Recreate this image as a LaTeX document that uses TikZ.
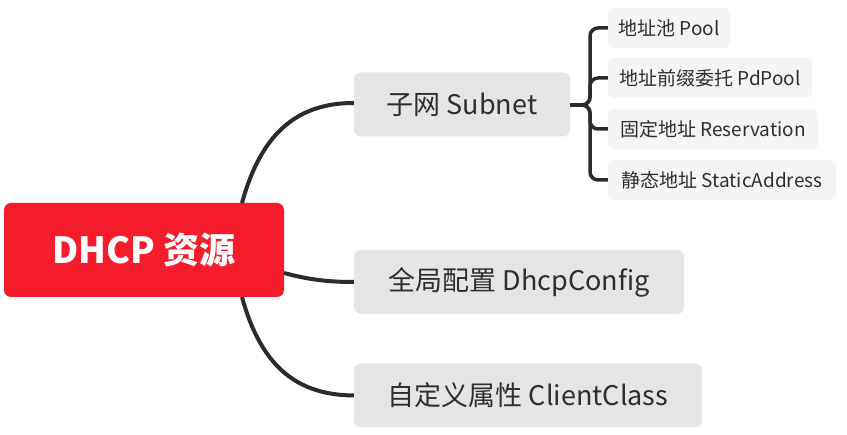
\documentclass[tikz,border=0pt]{standalone}
\usepackage{fontspec}
\setmainfont{Noto Sans CJK SC}
\definecolor{rootred}{HTML}{F51D2C}
\definecolor{lvlgray}{HTML}{E5E5E5}
\definecolor{leafgray}{HTML}{F5F5F5}
\definecolor{ink}{HTML}{2E2E2E}
\definecolor{linec}{HTML}{2B2B2B}
\begin{document}
\begin{tikzpicture}[x=1pt,y=-1pt,
  rootbox/.style={fill=rootred,rounded corners=7pt,text=white,inner sep=0pt,
    minimum width=280pt,minimum height=94pt,font=\fontsize{36}{42}\selectfont\bfseries},
  lvlbox/.style={fill=lvlgray,rounded corners=7pt,text=ink,inner sep=0pt,
    minimum height=64pt,font=\fontsize{27}{32}\selectfont},
  leafbox/.style={fill=leafgray,rounded corners=6pt,text=ink,inner sep=0pt,
    minimum height=40pt,font=\fontsize{19}{23}\selectfont},
  branch/.style={draw=linec,line width=4pt,line cap=round},
  bracket/.style={draw=linec,line width=3.5pt,rounded corners=8pt}]
\useasboundingbox (0,0) rectangle (847,435);
\node[rootbox] (root) at (144,250) {DHCP 资源};
\node[lvlbox,minimum width=216pt] (subnet) at (462,104.5) {子网 Subnet};
\node[lvlbox,minimum width=330pt] (cfg) at (519,282) {全局配置 DhcpConfig};
\node[lvlbox,minimum width=348pt] (cls) at (528,395.5) {自定义属性 ClientClass};
\node[leafbox,minimum width=122pt] (pool) at (669,28) {地址池 Pool};
\node[leafbox,minimum width=204pt] (pd) at (710,78) {地址前缀委托 PdPool};
\node[leafbox,minimum width=210pt] (res) at (713,129) {固定地址 Reservation};
\node[leafbox,minimum width=228pt] (sa) at (722,180) {静态地址 StaticAddress};
% main branches
\coordinate (rtop) at (242,203);
\coordinate (rbot) at (242,297);
\coordinate (rright) at (284,273);
\draw[branch,line cap=butt] (rtop) .. controls (262,130) and (300,103) .. (subnet.west |- 0,103);
\draw[branch,line cap=butt] (rright) .. controls (310,280) and (330,282) .. (cfg.west);
\draw[branch,line cap=butt] (rbot) .. controls (262,370) and (300,395) .. (cls.west);
% bracket
\coordinate (bx) at (590,105);
\foreach \c in {pool,pd,res,sa}{
  \draw[bracket] (subnet.east |- 0,105) -- (bx) |- (\c.west);
}
\end{tikzpicture}
\end{document}
